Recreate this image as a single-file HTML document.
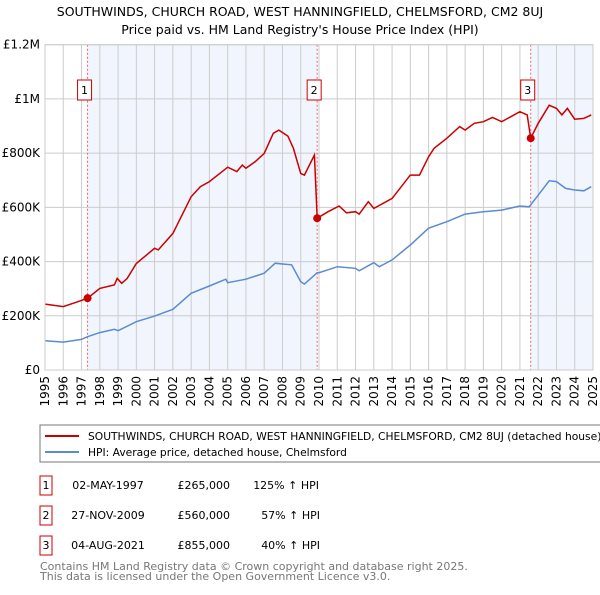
<!DOCTYPE html>
<html><head><meta charset="utf-8"><style>
body{margin:0;background:#fff;width:600px;height:590px;overflow:hidden;font-family:"Liberation Sans","DejaVu Sans",sans-serif}
svg text{font-family:"DejaVu Sans","Liberation Sans",sans-serif}
</style></head><body>
<svg id="c" width="600" height="590" xmlns="http://www.w3.org/2000/svg">
<text x="300" y="16" text-anchor="middle" font-size="12.5">SOUTHWINDS, CHURCH ROAD, WEST HANNINGFIELD, CHELMSFORD, CM2 8UJ</text>
<text x="300" y="34" text-anchor="middle" font-size="12.5">Price paid vs. HM Land Registry's House Price Index (HPI)</text>
<g id="plot"></g>
<rect x="40" y="425" width="570" height="37" fill="none" stroke="#777"/>
<line x1="45" y1="436" x2="79" y2="436" stroke="#cc0000" stroke-width="2"/>
<text x="88" y="440" font-size="10.7">SOUTHWINDS, CHURCH ROAD, WEST HANNINGFIELD, CHELMSFORD, CM2 8UJ (detached house)</text>
<line x1="45" y1="452" x2="79" y2="452" stroke="#5b8bd0" stroke-width="2"/>
<text x="88" y="456" font-size="10.7">HPI: Average price, detached house, Chelmsford</text>
<g font-size="11">
<rect x="40" y="476" width="12" height="19" fill="none" stroke="#cc0000"/><text x="46" y="489" text-anchor="middle">1</text>
<text x="108" y="489" text-anchor="middle">02-MAY-1997</text><text x="230" y="489" text-anchor="end">£265,000</text><text x="319" y="489" text-anchor="end">125% ↑ HPI</text>
<rect x="40" y="506" width="12" height="19" fill="none" stroke="#cc0000"/><text x="46" y="519" text-anchor="middle">2</text>
<text x="108" y="519" text-anchor="middle">27-NOV-2009</text><text x="230" y="519" text-anchor="end">£560,000</text><text x="320" y="519" text-anchor="end">57% ↑ HPI</text>
<rect x="40" y="536" width="12" height="19" fill="none" stroke="#cc0000"/><text x="46" y="549" text-anchor="middle">3</text>
<text x="108" y="549" text-anchor="middle">04-AUG-2021</text><text x="230" y="549" text-anchor="end">£855,000</text><text x="320" y="549" text-anchor="end">40% ↑ HPI</text>
</g>
<text x="40" y="570" font-size="11" fill="#777">Contains HM Land Registry data © Crown copyright and database right 2025.</text>
<text x="40" y="580" font-size="11" fill="#777">This data is licensed under the Open Government Licence v3.0.</text>
</svg>
<script>
const yTicks=[0,200000,400000,600000,800000,1000000,1200000];
const yTickLabels=["£0","£200K","£400K","£600K","£800K","£1M","£1.2M"];
const years=[1995,1996,1997,1998,1999,2000,2001,2002,2003,2004,2005,2006,2007,2008,2009,2010,2011,2012,2013,2014,2015,2016,2017,2018,2019,2020,2021,2022,2023,2024,2025];
const hpiX=[1995,1996,1997,1997.33,1998,1998.8,1999,2000,2001,2002,2003,2004,2004.9,2005,2006,2007,2007.6,2008,2008.5,2009,2009.2,2009.9,2010,2011,2012,2012.2,2013,2013.3,2014,2015,2016,2017,2018,2019,2020,2021,2021.5,2022,2022.6,2023,2023.5,2024,2024.5,2024.9];
const hpiY=[108000,103000,113000,123000,138000,150000,145000,178000,199000,224000,283000,310000,335000,322000,335000,357000,394000,391000,388000,326000,317000,359000,359000,381000,375000,366000,396000,381000,406000,461000,523000,547000,575000,584000,590000,605000,602000,645000,698000,695000,670000,664000,661000,676000];
const propX=[1995,1996,1996.8,1997.33,1998,1998.8,1998.95,1999.2,1999.5,2000,2001,2001.2,2002,2003,2003.5,2004,2005,2005.5,2005.8,2006,2006.5,2007,2007.5,2007.8,2008.3,2008.6,2009,2009.2,2009.75,2009.9,2010.5,2011.1,2011.5,2012,2012.2,2012.7,2013,2014,2015,2015.5,2016,2016.3,2017,2017.7,2018,2018.5,2019,2019.5,2020,2021,2021.4,2021.59,2022,2022.6,2023,2023.3,2023.6,2024,2024.5,2024.9];
const propY=[243000,234000,252000,265000,301000,314000,338000,320000,338000,393000,449000,443000,504000,639000,676000,695000,748000,732000,756000,744000,768000,799000,873000,885000,863000,818000,725000,719000,793000,560000,584000,605000,580000,584000,575000,621000,596000,633000,719000,719000,787000,818000,855000,898000,885000,910000,916000,932000,916000,953000,941000,855000,910000,977000,965000,941000,965000,925000,928000,941000];
const saleX=[1997.33,2009.9,2021.59];
const saleY=[265000,560000,855000];
const saleLabels=["1","2","3"];
const NS="http://www.w3.org/2000/svg";
const L=45,R=593,T=44.7,B=370;
const xs=y=>L+(y-1995)*(R-L)/30;
const ys=v=>B-v*(B-T)/1200000;
const g=document.getElementById('plot');
function mk(t,a,p){const e=document.createElementNS(NS,t);for(const k in a)e.setAttribute(k,a[k]);(p||g).appendChild(e);return e;}
let e;
e=mk('rect',{x:xs(1995),y:T,width:xs(years[years.length-1])-xs(1995),height:B-T,fill:'#fff'});


e=mk('rect',{x:xs(saleX[0]),y:T,width:xs(saleX[1])-xs(saleX[0]),height:B-T,fill:'#f1f5fd'});


e=mk('rect',{x:xs(saleX[2]),y:T,width:xs(2025)-xs(saleX[2]),height:B-T,fill:'#f1f5fd'});


years.forEach(y=>{
 e=mk('line',{x1:xs(y),x2:xs(y),y1:T,y2:B,stroke:'#ccc','stroke-width':1});
 
 
 e=mk('text',{x:0,y:0,'font-size':12,'text-anchor':'end',transform:`translate(${xs(y)+4},${B+6}) rotate(-90)`});
 e.textContent=y;
 
 
});
yTicks.forEach((v,i)=>{
 e=mk('line',{x1:L,x2:R,y1:ys(v),y2:ys(v),stroke:'#ccc','stroke-width':1});
 
 
 e=mk('text',{x:L-5,y:ys(v)+4,'font-size':12,'text-anchor':'end'});
 e.textContent=yTickLabels[i];
 
 
});
saleX.forEach((x,i)=>{
 e=mk('line',{x1:xs(x),x2:xs(x),y1:T,y2:B,stroke:'#e66','stroke-width':1,'stroke-dasharray':'2,2'});
 
 
});
function path(X,Y,c,n){
 e=mk('path',{d:X.map((x,i)=>(i?'L':'M')+xs(x).toFixed(1)+','+ys(Y[i]).toFixed(1)).join(''),fill:'none',stroke:c,'stroke-width':1.5});
 
 
}
path(hpiX,hpiY,'#5b8bd0','hpi-line');
path(propX,propY,'#cc0000','property-line');
saleX.forEach((x,i)=>{
 e=mk('circle',{cx:xs(x),cy:ys(saleY[i]),r:4,fill:'#cc0000'});
 
 
 e=mk('rect',{x:xs(x)-10,y:80,width:14,height:20,fill:'#fff',stroke:'#cc0000'});
 
 
 e=mk('text',{x:xs(x)-3,y:94,'font-size':11,'text-anchor':'middle'});
 e.textContent=saleLabels[i];
 
 
});
e=mk('rect',{x:L,y:T,width:R-L,height:B-T,fill:'none',stroke:'#ccc'});


</script>
</body></html>
